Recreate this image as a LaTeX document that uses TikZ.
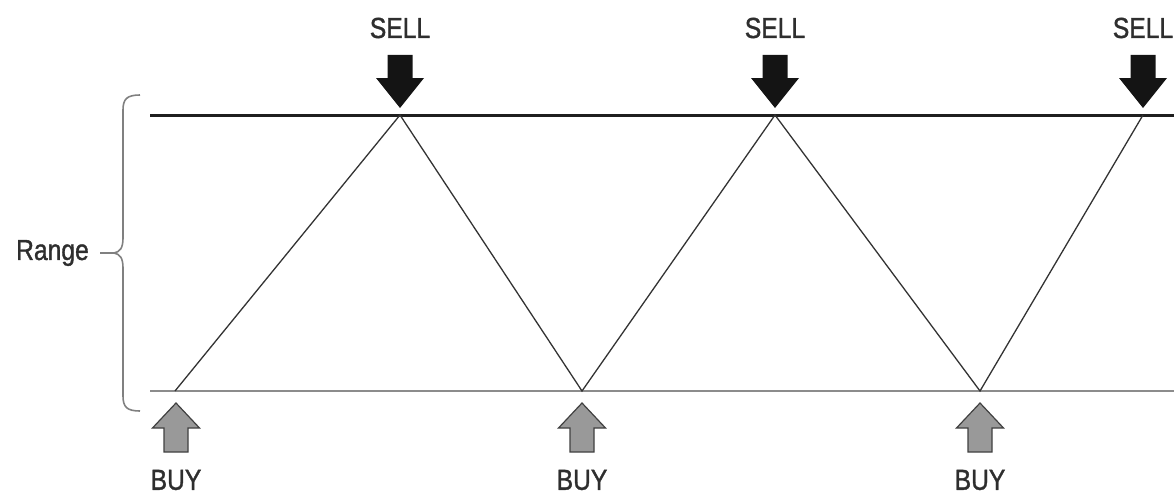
\documentclass[tikz,border=0pt]{standalone}
\usepackage{fontspec}
\setmainfont[FakeStretch=0.85,FakeBold=1.2]{Liberation Sans}
\begin{document}
\begin{tikzpicture}[x=1pt,y=-1pt,
  lbl/.style={text=black!82, font=\fontsize{29}{30}\selectfont, inner sep=0pt},
  topline/.style={draw=black!88, line width=3pt},
  botline/.style={draw=black!45, line width=2pt},
  zig/.style={draw=black!80, line width=1.3pt},
  bracestyle/.style={draw=black!50, line width=1.6pt},
  sellarrow/.pic={\fill[black!92] (-12.5,-53) -- (12.5,-53) -- (12.5,-30) -- (24,-30) -- (0,0) -- (-24,-30) -- (-12.5,-30) -- cycle;},
  buyarrow/.pic={\draw[fill=black!40, draw=black!75, line width=1.2pt, line join=miter] (0,0) -- (23.5,25) -- (12,25) -- (12,49) -- (-12,49) -- (-12,25) -- (-23.5,25) -- cycle;}
]
\useasboundingbox (0,0) rectangle (1174,495);
% range lines
\coordinate (tl) at (150,115);
\coordinate (tr) at (1174,115);
\coordinate (bl) at (150,391);
\coordinate (br) at (1174,391);
\draw[botline] (bl) -- (br);
\draw[topline] (tl) -- (tr);
% zigzag
\coordinate (p0) at (175,391);
\coordinate (p1) at (400,115);
\coordinate (p2) at (582,391);
\coordinate (p3) at (775,115);
\coordinate (p4) at (980,391);
\coordinate (p5) at (1143,115);
\draw[zig, line join=miter] (p0) -- (p1) -- (p2) -- (p3) -- (p4) -- (p5);
% sell arrows and labels
\pic at (400,108) {sellarrow};
\pic at (775,108) {sellarrow};
\pic at (1143,108) {sellarrow};
\node[lbl] (sell1) at (400,28) {SELL};
\node[lbl] (sell2) at (775,28) {SELL};
\node[lbl] (sell3) at (1143,28) {SELL};
% buy arrows and labels
\pic at (176,403) {buyarrow};
\pic at (582,403) {buyarrow};
\pic at (980,403) {buyarrow};
\node[lbl] (buy1) at (176,480) {BUY};
\node[lbl] (buy2) at (582,480) {BUY};
\node[lbl] (buy3) at (980,480) {BUY};
% brace
\draw[bracestyle] (140,95) .. controls (127,95) and (123,99) .. (123,110) -- (123,238)
  .. controls (123,248) and (120,252) .. (114,253)
  .. controls (120,254) and (123,258) .. (123,268) -- (123,396)
  .. controls (123,407) and (127,411) .. (140,411);
\coordinate (bracetip) at (114,253);
\node[lbl, anchor=east] (range) at (89,253) {Range};
\draw[bracestyle] (range.east) ++(11,0) coordinate (rt) (rt) -- (bracetip);
\end{tikzpicture}
\end{document}
